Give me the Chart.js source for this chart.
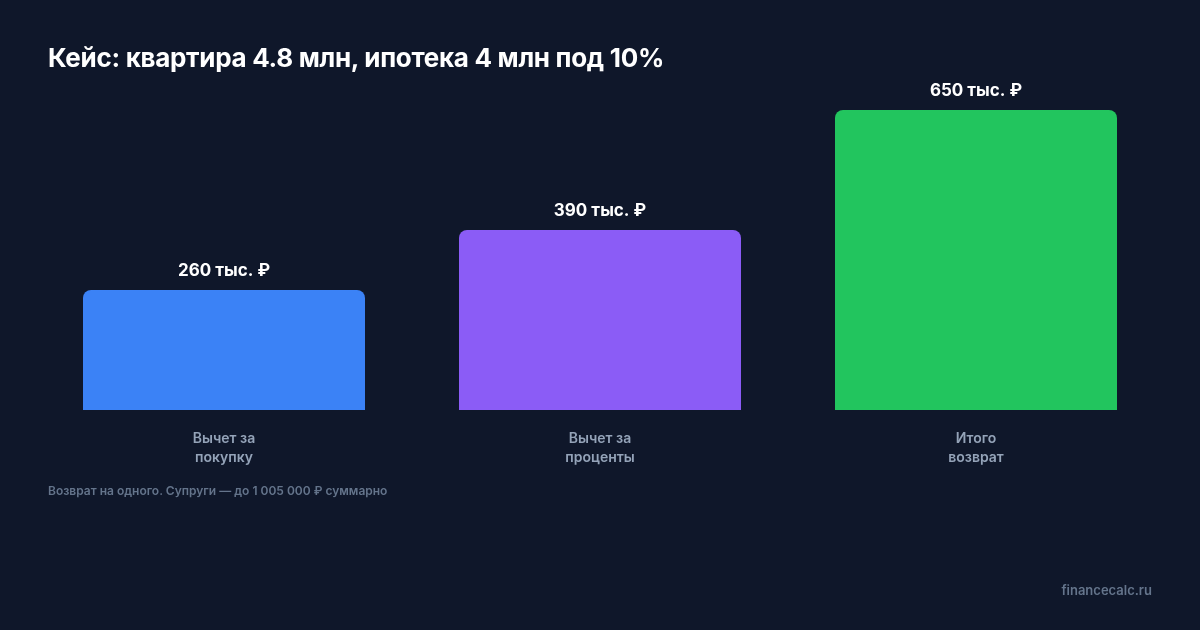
<!DOCTYPE html>
<html><head><meta charset="utf-8">
<script src="https://cdn.jsdelivr.net/npm/chart.js@4"></script>
<style>
html,body{margin:0;padding:0;background:#0f172a;width:1200px;height:630px;overflow:hidden;font-family:Inter,"Noto Sans",sans-serif}
#wrap{position:absolute;left:0;top:0;width:1200px;height:630px}
.t{position:absolute;left:48px;top:42px;color:#fff;font-weight:700;font-size:26px;letter-spacing:-0.3px}
.f{position:absolute;left:48px;top:483px;color:#64748b;font-weight:600;font-size:12px}
.w{position:absolute;right:48px;top:582px;color:#64748b;font-weight:600;font-size:13px}
</style></head><body>
<div id="wrap"><canvas id="c" width="1200" height="630"></canvas></div>
<div class="t">Кейс: квартира 4.8 млн, ипотека 4 млн под 10%</div>
<div class="f">Возврат на одного. Супруги — до 1 005 000 ₽ суммарно</div>
<div class="w">financecalc.ru</div>
<script>
const categories=[["Вычет за","покупку"],["Вычет за","проценты"],["Итого","возврат"]];
const values=[260,390,650];
const valueLabels=["260 тыс. ₽","390 тыс. ₽","650 тыс. ₽"];
const colors=["#3b82f6","#8b5cf6","#22c55e"];
const lbl={id:'lbl',afterDatasetsDraw(ch){const ctx=ch.ctx;const m=ch.getDatasetMeta(0);ctx.save();ctx.fillStyle='#fff';ctx.font='700 17px Inter, "Noto Sans", sans-serif';ctx.textAlign='center';ctx.textBaseline='middle';m.data.forEach((b,i)=>ctx.fillText(valueLabels[i],b.x,b.y-19));ctx.restore();}};
new Chart(document.getElementById('c'),{type:'bar',
data:{labels:categories,datasets:[{data:values,backgroundColor:colors,borderRadius:{topLeft:8,topRight:8},borderSkipped:'bottom',barPercentage:0.75,categoryPercentage:1}]},
options:{responsive:false,animation:false,layout:{padding:{left:36,right:36,top:80,bottom:0}},
plugins:{legend:{display:false},tooltip:{enabled:false}},
scales:{y:{display:false,min:0,max:715},
x:{grid:{display:false},border:{display:false},afterFit(s){s.height=220;},
ticks:{color:'#94a3b8',padding:12,font:{family:'Inter, "Noto Sans", sans-serif',size:14,weight:'600',lineHeight:1.3}}}}},
plugins:[lbl]});
</script></body></html>
